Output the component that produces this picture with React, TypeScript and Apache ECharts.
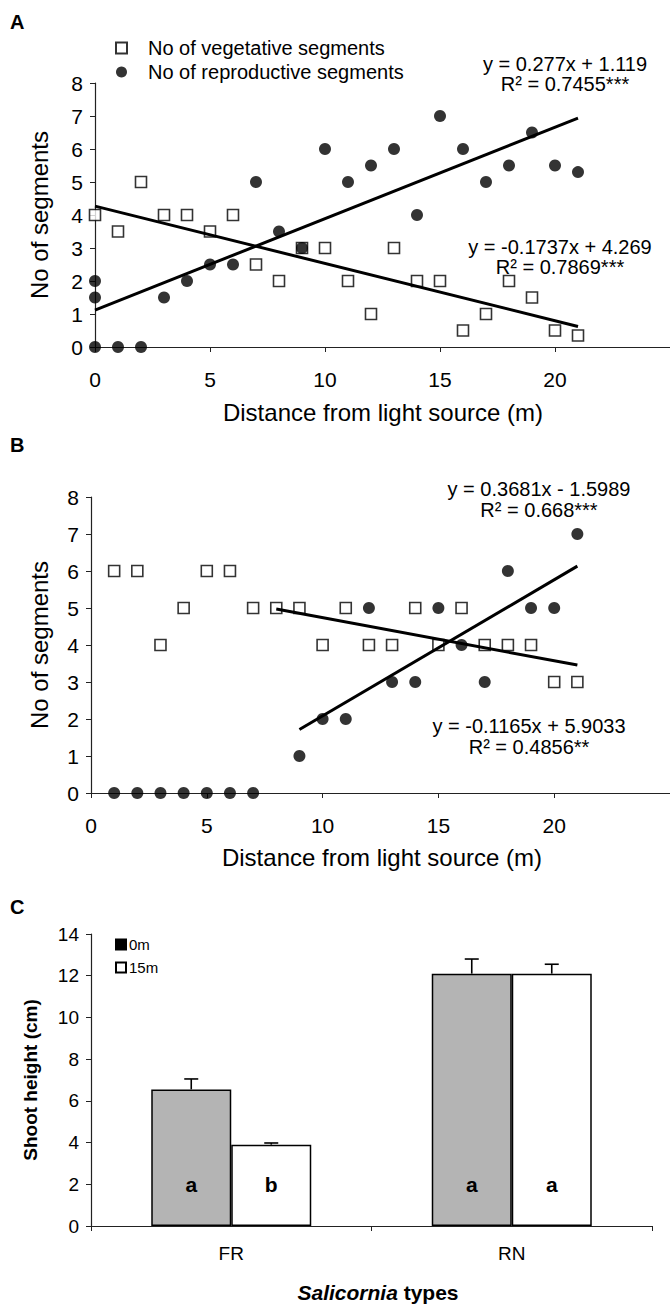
import React, { useEffect, useRef } from "react";
import * as echarts from "echarts";

// ---------- Panel A data ----------
const aVegetative: number[][] = [
  [0, 4], [1, 3.5], [2, 5], [3, 4], [4, 4], [5, 3.5], [6, 4], [7, 2.5], [8, 2], [9, 3],
  [10, 3], [11, 2], [12, 1], [13, 3], [14, 2], [15, 2], [16, 0.5], [17, 1], [18, 2],
  [19, 1.5], [20, 0.5], [21, 0.35],
];
const aReproductive: number[][] = [
  [0, 2], [0, 1.5], [0, 0], [1, 0], [2, 0], [3, 1.5], [4, 2], [5, 2.5], [6, 2.5], [7, 5],
  [8, 3.5], [9, 3], [10, 6], [11, 5], [12, 5.5], [13, 6], [14, 4], [15, 7], [16, 6],
  [17, 5], [18, 5.5], [19, 6.5], [20, 5.5], [21, 5.3],
];
// trend lines: [slope, intercept, xStart, xEnd]
const aRepTrend = [0.277, 1.119, 0, 21];
const aVegTrend = [-0.1737, 4.269, 0, 21];

// ---------- Panel B data ----------
const bVegetative: number[][] = [
  [1, 6], [2, 6], [3, 4], [4, 5], [5, 6], [6, 6], [7, 5], [8, 5], [9, 5], [10, 4],
  [11, 5], [12, 4], [13, 4], [14, 5], [15, 4], [16, 5], [17, 4], [18, 4], [19, 4],
  [20, 3], [21, 3],
];
const bReproductive: number[][] = [
  [1, 0], [2, 0], [3, 0], [4, 0], [5, 0], [6, 0], [7, 0], [9, 1], [10, 2], [11, 2],
  [12, 5], [13, 3], [14, 3], [15, 5], [16, 4], [17, 3], [18, 6], [19, 5], [20, 5], [21, 7],
];
const bRepTrend = [0.3681, -1.5989, 9, 21];
const bVegTrend = [-0.1165, 5.9033, 8, 21];

// ---------- Panel C data ----------
const cCategories = ["FR", "RN"];
const c0m = [6.55, 12.1];
const c0mErr = [0.5, 0.7];
const c15m = [3.9, 12.1];
const c15mErr = [0.08, 0.45];
const c0mLetters = ["a", "a"];
const c15mLetters = ["b", "a"];
const letterLevel = 2;

const xTicks = [0, 5, 10, 15, 20];

const FONT = "'Liberation Sans', Arial, Helvetica, sans-serif";
const BAR_W = 80;

function trend(t: number[]): number[][] {
  const [m, b, x0, x1] = t;
  return [
    [x0, m * x0 + b],
    [x1, m * x1 + b],
  ];
}

const axisCol = "#222";

function valueX(grid: number) {
  return {
    type: "value",
    gridIndex: grid,
    min: 0,
    max: 25,
    interval: 5,
    axisLine: { show: true, onZero: false, lineStyle: { color: axisCol, width: 1.2 } },
    axisTick: { show: true, inside: false, length: 5, lineStyle: { color: axisCol } },
    axisLabel: {
      fontSize: 21,
      color: "#000",
      fontFamily: FONT,
      margin: 22,
      showMaxLabel: false,
      formatter: (v: number) => (xTicks.includes(v) ? String(v) : ""),
    },
    splitLine: { show: false },
  };
}

function valueY(grid: number, max: number, interval: number, fs: number) {
  return {
    type: "value",
    gridIndex: grid,
    min: 0,
    max,
    interval,
    axisLine: { show: true, lineStyle: { color: axisCol, width: 1.2 } },
    axisTick: { show: true, inside: false, length: 5, lineStyle: { color: axisCol } },
    axisLabel: { fontSize: fs, color: "#000", fontFamily: FONT, margin: 12 },
    splitLine: { show: false },
  };
}

const squareStyle = { color: "#fff", borderColor: "#000", borderWidth: 1.6 };
const dotStyle = { color: "#000" };
const trendStyle = { color: "#000", width: 3 };

function errSeries(vals: number[], errs: number[], letters: string[], side: number) {
  return {
    type: "custom",
    xAxisIndex: 2,
    yAxisIndex: 2,
    z: 5,
    data: vals.map((v, i) => [i, v, errs[i]]),
    renderItem: (params: any, api: any) => {
      const i = api.value(0);
      const v = api.value(1);
      const e = api.value(2);
      const base = api.coord([i, v]);
      const top = api.coord([i, v + e]);
      const lab = api.coord([i, letterLevel]);
      const x = base[0] + (side * BAR_W) / 2;
      return {
        type: "group",
        children: [
          {
            type: "line",
            shape: { x1: x, y1: base[1], x2: x, y2: top[1] },
            style: { stroke: "#000", lineWidth: 1.6 },
          },
          {
            type: "line",
            shape: { x1: x - 7, y1: top[1], x2: x + 7, y2: top[1] },
            style: { stroke: "#000", lineWidth: 1.6 },
          },
          {
            type: "text",
            x,
            y: lab[1],
            style: {
              text: letters[params.dataIndex],
              fontSize: 21,
              fontWeight: "bold",
              fontFamily: FONT,
              fill: "#000",
              align: "center",
              verticalAlign: "middle",
            },
          },
        ],
      };
    },
  };
}

function txt(text: string, x: number, y: number, fs: number, extra: any = {}) {
  return {
    type: "text",
    x,
    y,
    rotation: extra.rotation || 0,
    style: {
      text,
      fontSize: fs,
      fontFamily: FONT,
      fill: "#000",
      align: extra.align || "center",
      verticalAlign: "middle",
      fontWeight: extra.fontWeight || "normal",
      rich: extra.rich,
    },
  };
}

export default function App() {
  const ref = useRef<HTMLDivElement>(null);
  useEffect(() => {
    document.body.style.margin = "0";
    const chart = echarts.init(ref.current!, undefined, { renderer: "svg" });
    const option: any = {
      animation: false,
      backgroundColor: "#fff",
      textStyle: { fontFamily: FONT },
      grid: [
        { left: 95, top: 83, width: 599, height: 264 },
        { left: 91, top: 497, width: 605, height: 296 },
        { left: 91, top: 934, width: 561, height: 292 },
      ],
      xAxis: [
        valueX(0),
        valueX(1),
        {
          type: "category",
          gridIndex: 2,
          data: cCategories,
          axisLine: { show: true, lineStyle: { color: axisCol, width: 1.2 } },
          axisTick: { show: true, alignWithLabel: false, length: 5, lineStyle: { color: axisCol } },
          axisLabel: { fontSize: 19, color: "#000", fontFamily: FONT, margin: 18 },
        },
      ],
      yAxis: [valueY(0, 8, 1, 21), valueY(1, 8, 1, 21), valueY(2, 14, 2, 19)],
      legend: [
        {
          orient: "vertical",
          left: 115,
          top: 38,
          padding: 0,
          itemWidth: 11,
          itemHeight: 11,
          itemGap: 4,
          textStyle: { fontSize: 20, color: "#000", fontFamily: FONT, padding: [0, 0, 0, 16] },
          data: [
            { name: "No of vegetative segments", icon: "rect" },
            { name: "No of reproductive segments", icon: "circle" },
          ],
        },
        {
          orient: "vertical",
          left: 115,
          top: 937,
          padding: 0,
          itemWidth: 10,
          itemHeight: 10,
          itemGap: 8,
          textStyle: { fontSize: 15, color: "#000", fontFamily: FONT, padding: [0, 0, 0, -2] },
          data: [
            { name: "0m", icon: "rect", itemStyle: { color: "#000", borderColor: "#000" } },
            { name: "15m", icon: "rect" },
          ],
        },
      ],
      series: [
        // Panel A
        {
          name: "No of vegetative segments",
          type: "scatter",
          xAxisIndex: 0,
          yAxisIndex: 0,
          symbol: "rect",
          symbolSize: 11,
          itemStyle: squareStyle,
          data: aVegetative,
        },
        {
          name: "No of reproductive segments",
          type: "scatter",
          xAxisIndex: 0,
          yAxisIndex: 0,
          symbol: "circle",
          symbolSize: 12,
          itemStyle: dotStyle,
          data: aReproductive,
        },
        {
          name: "A rep trend",
          type: "line",
          xAxisIndex: 0,
          yAxisIndex: 0,
          showSymbol: false,
          lineStyle: trendStyle,
          data: trend(aRepTrend),
        },
        {
          name: "A veg trend",
          type: "line",
          xAxisIndex: 0,
          yAxisIndex: 0,
          showSymbol: false,
          lineStyle: trendStyle,
          data: trend(aVegTrend),
        },
        // Panel B
        {
          name: "B vegetative",
          type: "scatter",
          xAxisIndex: 1,
          yAxisIndex: 1,
          symbol: "rect",
          symbolSize: 11,
          itemStyle: squareStyle,
          data: bVegetative,
        },
        {
          name: "B reproductive",
          type: "scatter",
          xAxisIndex: 1,
          yAxisIndex: 1,
          symbol: "circle",
          symbolSize: 12,
          itemStyle: dotStyle,
          data: bReproductive,
        },
        {
          name: "B rep trend",
          type: "line",
          xAxisIndex: 1,
          yAxisIndex: 1,
          showSymbol: false,
          lineStyle: trendStyle,
          data: trend(bRepTrend),
        },
        {
          name: "B veg trend",
          type: "line",
          xAxisIndex: 1,
          yAxisIndex: 1,
          showSymbol: false,
          lineStyle: trendStyle,
          data: trend(bVegTrend),
        },
        // Panel C
        {
          name: "0m",
          type: "bar",
          xAxisIndex: 2,
          yAxisIndex: 2,
          barWidth: BAR_W,
          barGap: "0%",
          itemStyle: { color: "#b4b4b4", borderColor: "#000", borderWidth: 1.5 },
          data: c0m,
        },
        {
          name: "15m",
          type: "bar",
          xAxisIndex: 2,
          yAxisIndex: 2,
          barWidth: BAR_W,
          barGap: "0%",
          itemStyle: { color: "#fff", borderColor: "#000", borderWidth: 1.5 },
          data: c15m,
        },
        errSeries(c0m, c0mErr, c0mLetters, -1),
        errSeries(c15m, c15mErr, c15mLetters, 1),
      ],
      graphic: [
        txt("A", 10, 22, 20, { align: "left", fontWeight: "bold" }),
        txt("B", 10, 445, 20, { align: "left", fontWeight: "bold" }),
        txt("C", 10, 907, 20, { align: "left", fontWeight: "bold" }),
        txt("y = 0.277x + 1.119", 565, 64, 20),
        txt("R² = 0.7455***", 565, 84, 20),
        txt("y = -0.1737x + 4.269", 560, 247, 20),
        txt("R² = 0.7869***", 560, 267, 20),
        txt("y = 0.3681x - 1.5989", 539, 489, 20),
        txt("R² = 0.668***", 539, 510, 20),
        txt("y = -0.1165x + 5.9033", 529, 726, 20),
        txt("R² = 0.4856**", 529, 747, 20),
        txt("Distance from light source (m)", 383, 412, 24),
        txt("Distance from light source (m)", 382, 857, 24),
        txt("No of segments", 39, 215, 24, { rotation: Math.PI / 2 }),
        txt("No of segments", 39, 645, 24, { rotation: Math.PI / 2 }),
        txt("Shoot height (cm)", 30, 1080, 19, { rotation: Math.PI / 2, fontWeight: "bold" }),
        txt("{i|Salicornia} {b|types}", 378, 1292, 21, {
          rich: {
            i: { fontSize: 21, fontWeight: "bold", fontStyle: "italic", fontFamily: FONT, fill: "#000" },
            b: { fontSize: 21, fontWeight: "bold", fontFamily: FONT, fill: "#000" },
          },
        }),
      ],
    };
    chart.setOption(option);
    return () => chart.dispose();
  }, []);
  return (
    <div
      ref={ref}
      style={{ width: 670, height: 1305, position: "absolute", left: 0, top: 0, background: "#fff" }}
    />
  );
}
